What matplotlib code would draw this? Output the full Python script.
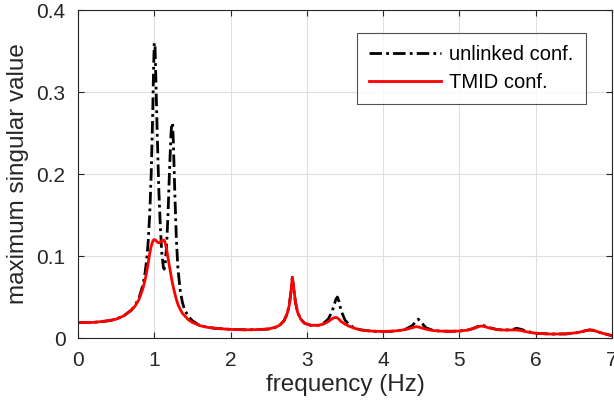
import matplotlib
matplotlib.use("Agg")
import matplotlib.pyplot as plt

# frequency grid (Hz), denser around the resonance peaks
freq = [0.0, 0.2, 0.4, 0.5, 0.6, 0.7, 0.75, 0.8, 0.85, 0.88, 0.9, 0.92, 0.94, 0.96,
        0.98, 0.99, 1.0, 1.01, 1.02, 1.04, 1.06, 1.08, 1.1, 1.12, 1.13, 1.14, 1.16,
        1.18, 1.2, 1.22, 1.23, 1.24, 1.25, 1.27, 1.29, 1.31, 1.34, 1.37, 1.4, 1.45,
        1.5, 1.6, 1.7, 1.8, 2.0, 2.2, 2.4, 2.5, 2.6, 2.65, 2.7, 2.74, 2.77, 2.79,
        2.81, 2.83, 2.85, 2.88, 2.92, 2.97, 3.05, 3.15, 3.22, 3.28, 3.33, 3.36, 3.38,
        3.4, 3.42, 3.45, 3.5, 3.55, 3.62, 3.7, 3.8, 3.9, 4.0, 4.1, 4.2, 4.3, 4.38,
        4.43, 4.46, 4.5, 4.56, 4.65, 4.75, 4.9, 5.0, 5.1, 5.18, 5.25, 5.29, 5.33,
        5.4, 5.5, 5.6, 5.7, 5.75, 5.8, 5.9, 6.0, 6.2, 6.4, 6.55, 6.65, 6.7, 6.75,
        6.85, 7.0]

unlinked = [0.0187, 0.019, 0.021, 0.023, 0.027, 0.034, 0.040, 0.049, 0.064, 0.080,
            0.095, 0.117, 0.150, 0.200, 0.275, 0.325, 0.360, 0.355, 0.320, 0.245,
            0.180, 0.135, 0.102, 0.086, 0.084, 0.088, 0.110, 0.150, 0.205, 0.250,
            0.262, 0.262, 0.240, 0.175, 0.120, 0.085, 0.058, 0.043, 0.034, 0.026,
            0.021, 0.015, 0.013, 0.0118, 0.0105, 0.0100, 0.0104, 0.011, 0.0135,
            0.016, 0.021, 0.029, 0.040, 0.055, 0.074, 0.060, 0.044, 0.031, 0.023,
            0.018, 0.0155, 0.0155, 0.018, 0.023, 0.032, 0.041, 0.047, 0.050, 0.045,
            0.033, 0.022, 0.0165, 0.0125, 0.010, 0.0088, 0.0082, 0.0080, 0.0082,
            0.0090, 0.011, 0.015, 0.020, 0.023, 0.019, 0.0125, 0.0095, 0.0084,
            0.0082, 0.0085, 0.0095, 0.0115, 0.0145, 0.0155, 0.0148, 0.0125, 0.0102,
            0.0097, 0.0105, 0.0118, 0.0108, 0.0078, 0.0058, 0.0048, 0.0050, 0.0066,
            0.0088, 0.0098, 0.0095, 0.0065, 0.0028]

tmid = [0.0187, 0.019, 0.021, 0.023, 0.027, 0.034, 0.039, 0.047, 0.060, 0.071,
        0.080, 0.091, 0.103, 0.112, 0.118, 0.1195, 0.120, 0.1198, 0.119, 0.117,
        0.116, 0.117, 0.119, 0.1195, 0.119, 0.117, 0.109, 0.098, 0.087, 0.076,
        0.071, 0.066, 0.062, 0.054, 0.047, 0.041, 0.035, 0.030, 0.027, 0.022,
        0.019, 0.015, 0.013, 0.0118, 0.0105, 0.0100, 0.0104, 0.011, 0.0135,
        0.016, 0.021, 0.029, 0.040, 0.055, 0.074, 0.060, 0.044, 0.031, 0.023,
        0.018, 0.0155, 0.0155, 0.017, 0.020, 0.0235, 0.0248, 0.025, 0.0245, 0.023,
        0.020, 0.017, 0.0145, 0.012, 0.010, 0.0088, 0.0082, 0.0080, 0.0082,
        0.0090, 0.0105, 0.0125, 0.0138, 0.0135, 0.0125, 0.0108, 0.0092, 0.0084,
        0.0082, 0.0085, 0.0095, 0.0115, 0.0138, 0.0146, 0.0140, 0.0120, 0.0102,
        0.0097, 0.0098, 0.0098, 0.0092, 0.0072, 0.0058, 0.0048, 0.0050, 0.0066,
        0.0088, 0.0098, 0.0095, 0.0065, 0.0028]

xticks = [0, 1, 2, 3, 4, 5, 6, 7]
yticks = [0, 0.1, 0.2, 0.3, 0.4]
yticklabels = ["0", "0.1", "0.2", "0.3", "0.4"]

plt.rcParams['font.family'] = ['Liberation Sans', 'DejaVu Sans']
axcol = '#262626'

fig = plt.figure(figsize=(6.14, 4.19), dpi=100)
ax = fig.add_axes([0.127, 0.1933, 0.8697, 0.7828])

ax.plot(freq, unlinked, color='black', linestyle='-.', linewidth=2.0,
        dashes=(4.5, 1.5, 1, 1.5), label='unlinked conf.')
ax.plot(freq, tmid, color='#ff0000', linewidth=2.0, label='TMID conf.')

ax.set_xlim(0, 7)
ax.set_ylim(0, 0.4)
ax.set_xticks(xticks)
ax.set_yticks(yticks)
ax.set_yticklabels(yticklabels)
ax.grid(True, color='#dfdfdf', linewidth=0.8)
ax.set_axisbelow(True)
ax.tick_params(direction='in', length=4, width=0.8, colors=axcol,
               labelsize=15, top=True, right=True, pad=9)
for s in ax.spines.values():
    s.set_color(axcol)
    s.set_linewidth(0.8)

ax.set_xlabel('frequency (Hz)', fontsize=17.5, color=axcol, labelpad=3)
ax.set_ylabel('maximum singular value', fontsize=17.5, color=axcol, labelpad=5)

leg = ax.legend(loc='upper right', bbox_to_anchor=(0.951, 0.931), fontsize=14.5,
                frameon=True, fancybox=False, handlelength=3.6, borderpad=0.6,
                labelspacing=0.45, handletextpad=0.4, borderaxespad=0)
leg.get_frame().set_edgecolor(axcol)
leg.get_frame().set_linewidth(0.8)

fig.savefig('out.png', dpi=100)
